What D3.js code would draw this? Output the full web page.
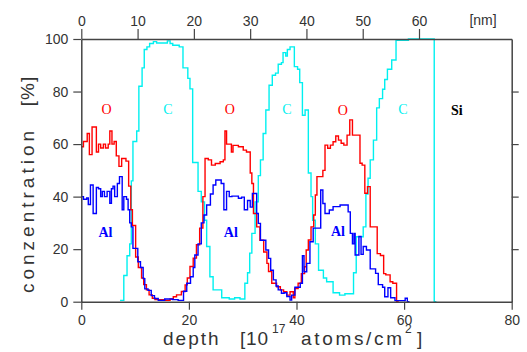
<!DOCTYPE html>
<html>
<head>
<meta charset="utf-8">
<script src="https://cdn.jsdelivr.net/npm/d3@7"></script>
<style>
  body { margin: 0; background: #fff; }
  text { white-space: pre; }
</style>
</head>
<body>
<div id="chart"></div>
<script>
// depth [1e17 atoms/cm2] -> concentration [%], step profiles
var oxygen = [
  [0, 59], [0.4, 61], [1.1, 64], [1.5, 56], [2.0, 66.5], [2.8, 57], [3.2, 60], [3.6, 58.5],
  [4.1, 60], [4.5, 58.5], [5.0, 60], [5.3, 65], [5.7, 60], [6.1, 61], [6.5, 55.5], [7.0, 51.5],
  [7.5, 54.5], [8.3, 53.5], [8.8, 44], [9.2, 35], [9.5, 29], [10.1, 17], [10.6, 13], [11.2, 9],
  [11.6, 6.5], [12.1, 4.5], [12.6, 2.6], [13.2, 1.3], [13.7, 0.8], [15.5, 0.5], [16.5, 1],
  [17.1, 1.9], [17.7, 2.6], [18.6, 3.9], [19.3, 6.4], [19.7, 9], [20.2, 13.4], [20.8, 16.6],
  [21.4, 21.7], [22.0, 28], [22.6, 40], [23.0, 54.5], [23.6, 54], [24.2, 52], [24.9, 52.6],
  [25.8, 53.3], [26.4, 54], [26.7, 65], [27.0, 60], [27.9, 57], [28.2, 59.5], [29.2, 59],
  [30.1, 57.7], [30.7, 57], [31.4, 49], [31.7, 45], [32.0, 33.6], [32.6, 28.5], [33.2, 23.4],
  [33.9, 18.9], [34.5, 14.6], [34.8, 11.5], [35.4, 7], [36.3, 5.7], [37.0, 4.5], [37.6, 3.8],
  [38.2, 2.5], [38.8, 3.8], [39.4, 1.5], [39.7, 5], [40.3, 7], [40.9, 10.7], [41.5, 13.3],
  [41.8, 19.7], [42.2, 23.5], [42.7, 28.5], [43.2, 33], [43.5, 40.6], [43.8, 47.6], [44.9, 50],
  [45.3, 59.6], [45.8, 58.4], [46.3, 59.6], [46.8, 60.9], [47.3, 63.1], [47.8, 61.5],
  [48.3, 60.3], [48.8, 59.6], [49.4, 63.4], [49.9, 69.2], [50.4, 63.4], [51.8, 52.7], [52.2, 52],
  [52.7, 41.3], [53.2, 43.8], [53.7, 28.5], [55.0, 18.3], [55.6, 17.6], [56.2, 10.7],
  [56.6, 10.2], [57.4, 7.6], [57.9, 7.0], [58.6, 0], [59, 0]
]

var carbon = [
  [7.2, 0.5], [7.9, 10], [8.5, 17.5], [9.0, 22], [9.3, 46], [9.6, 61], [10.3, 65], [10.7, 82],
  [11.3, 89], [11.7, 96], [12.2, 97], [12.7, 98.3], [13.4, 99], [14.0, 98.5], [16.0, 99.3],
  [16.5, 98.3], [17.0, 97.6], [18.2, 97], [18.9, 89], [19.8, 85], [20.2, 81], [20.7, 53],
  [21.7, 42], [22.3, 38], [22.9, 31], [23.3, 21], [23.9, 9.5], [24.5, 4.5], [26.1, 1.5],
  [27.5, 1], [28.5, 1.5], [29.5, 1], [30.4, 7], [30.9, 11], [31.3, 18.5], [31.7, 26], [32.3, 38],
  [32.9, 48], [33.3, 54], [33.8, 64], [34.3, 73], [34.9, 82.4], [35.5, 86.2], [36.1, 87],
  [36.6, 90.4], [37.2, 91], [37.5, 94.8], [38.0, 93.5], [38.3, 96], [38.8, 97], [39.6, 89.5],
  [40.2, 88.5], [40.6, 83.4], [41.1, 71], [41.6, 73], [42.2, 49], [42.7, 40], [43.0, 31],
  [43.5, 22], [44.1, 12], [45.0, 9], [45.6, 7.6], [46.8, 3.4], [48.0, 2.5], [49.0, 3],
  [50.6, 11], [51.1, 24.7], [52.4, 28.5], [52.9, 41], [53.3, 47], [53.7, 54], [54.3, 61.5],
  [54.9, 73.8], [55.4, 77.3], [56.0, 80.9], [56.4, 84.6], [56.9, 88.5], [57.7, 92],
  [58.5, 99.5], [60.8, 100], [65.6, 0], [66, 0]
]

var aluminium = [
  [0, 40], [0.4, 39], [1.0, 39.5], [1.3, 37], [1.7, 44.4], [2.2, 33.6], [2.8, 43.5], [3.2, 43],
  [3.6, 40], [3.9, 42], [4.3, 40], [4.8, 42], [5.3, 37.5], [5.6, 43], [5.9, 44], [6.2, 40],
  [6.7, 45], [7.1, 47.6], [7.6, 35], [7.9, 40], [8.4, 39], [8.7, 35], [9.0, 30], [9.3, 28.5],
  [9.6, 20.3], [10.5, 15.2], [11.0, 13], [11.5, 8.8], [11.8, 4.9], [12.4, 4.3], [13.0, 2.3],
  [13.6, 1.2], [14.3, 0.5], [15.5, 1], [17.0, 0.8], [18.0, 0.5], [19.0, 4], [19.6, 7],
  [20.3, 9.5], [20.8, 13], [21.1, 17.8], [21.7, 22], [22.3, 30], [22.8, 33], [23.3, 36.8],
  [24.0, 41], [24.5, 44.4], [25.0, 46.3], [26.0, 45], [26.5, 35], [27.0, 42], [27.5, 40],
  [28.0, 40.2], [29.2, 39.4], [29.8, 39.8], [30.3, 35], [30.9, 38.5], [31.4, 36], [31.8, 41.2],
  [32.6, 33.6], [32.9, 29.8], [33.3, 23.4], [34.3, 19.7], [34.8, 16.5], [35.2, 12], [35.7, 8.3],
  [36.2, 6], [36.6, 4.5], [37.2, 3.2], [37.7, 3.4], [38.2, 2], [38.8, 0.6], [39.1, 2.5],
  [39.7, 5.5], [40.7, 7], [41.1, 17.5], [41.4, 11.4], [41.9, 14.6], [42.5, 22.8], [43.1, 28],
  [44.5, 42.5], [44.9, 37.4], [45.3, 33.6], [46.1, 34.9], [46.8, 36.2], [48.1, 36.8],
  [49.6, 34.2], [50.0, 26], [50.4, 22], [50.7, 26], [50.9, 17.8], [51.6, 24.8], [52.0, 18],
  [52.4, 21], [53.0, 19.7], [53.7, 12.5], [54.7, 10.8], [55.2, 6.5], [56.0, 5.5], [56.4, 1.9],
  [57.0, 5.3], [57.5, 1.5], [58.3, 0.4], [60.2, 1.3], [60.6, 0], [61, 0]
]

var depthTicks = [0, 20, 40, 60, 80]
var nmTicks = [0, 10, 20, 30, 40, 50, 60]
var concTicks = [0, 20, 40, 60, 80, 100]

// element labels, placed in data coordinates
var labels = [
  {text: "O", el: "O", d: 4.7, v: 73.4},
  {text: "C", el: "C", d: 16.1, v: 73.4},
  {text: "O", el: "O", d: 27.6, v: 73.4},
  {text: "C", el: "C", d: 38.2, v: 73.4},
  {text: "O", el: "O", d: 48.6, v: 73.0},
  {text: "C", el: "C", d: 59.8, v: 73.4},
  {text: "Si", el: "Si", d: 69.8, v: 73.0},
  {text: "Al", el: "Al", d: 4.5, v: 26.5},
  {text: "Al", el: "Al", d: 27.8, v: 26.5},
  {text: "Al", el: "Al", d: 47.7, v: 26.7}
]

var color = {O: "#ff0000", C: "#00f0f0", Al: "#0000ff", Si: "#000000"}

var width = 527, height = 352
var svg = d3.select("#chart").append("svg")
  .attr("width", width)
  .attr("height", height)

var x = d3.scaleLinear().domain([0, 80]).range([81.3, 511.7])
var y = d3.scaleLinear().domain([0, 100]).range([301.7, 39])
// top axis in nm, 60 nm sits at x=419
var xnm = d3.scaleLinear().domain([0, 430.4 / ((419 - 81.3) / 60)]).range([81.3, 511.7])

var line = d3.line()
  .curve(d3.curveStepAfter)
  .x(d => x(d[0]))
  .y(d => y(d[1]))

var series = [["C", carbon], ["O", oxygen], ["Al", aluminium]]
svg.append("g").selectAll("path")
  .data(series)
  .enter()
  .append("path")
    .attr("d", d => line(d[1]))
    .attr("fill", "none")
    .attr("stroke", d => color[d[0]])
    .attr("stroke-width", 1.4)

var tickFont = function(g) {
  g.selectAll("text")
    .style("font-family", "'Liberation Sans', Arial, sans-serif")
    .style("font-size", "14px")
    .attr("fill", "#333")
  g.selectAll("line").attr("stroke", "#444").attr("stroke-width", 1.2)
  g.select(".domain").attr("stroke", "#444").attr("stroke-width", 1.5)
}

svg.append("g")
  .attr("transform", "translate(0," + y(0) + ")")
  .call(d3.axisBottom(x).tickValues(depthTicks).tickSize(8).tickSizeOuter(0).tickPadding(5))
  .call(tickFont)

svg.append("g")
  .attr("transform", "translate(0," + y(100) + ")")
  .call(d3.axisTop(xnm).tickValues(nmTicks).tickSize(10).tickSizeOuter(0).tickPadding(3))
  .call(tickFont)

svg.append("g")
  .attr("transform", "translate(" + x(0) + ",0)")
  .call(d3.axisLeft(y).tickValues(concTicks).tickSize(8).tickSizeOuter(0).tickPadding(5))
  .call(tickFont)

svg.append("g")
  .attr("transform", "translate(" + x(80) + ",0)")
  .call(d3.axisRight(y).tickValues([20, 40, 60, 80]).tickSize(7).tickSizeOuter(0).tickFormat(""))
  .call(tickFont)

svg.append("text")
  .attr("x", 483).attr("y", 25)
  .attr("text-anchor", "middle")
  .style("font-family", "'Liberation Sans', Arial, sans-serif")
  .style("font-size", "14px")
  .attr("fill", "#333")
  .text("[nm]")

svg.append("g").selectAll("text")
  .data(labels)
  .enter()
  .append("text")
    .attr("x", d => x(d.d))
    .attr("y", d => y(d.v))
    .attr("dy", "0.35em")
    .attr("text-anchor", "middle")
    .attr("fill", d => color[d.el])
    .style("font-family", "'Liberation Serif', 'Times New Roman', serif")
    .style("font-weight", d => (d.el == "Al" || d.el == "Si") ? "bold" : "normal")
    .style("font-size", "14px")
    .text(d => d.text)

// axis titles
var titleFont = function(t) {
  t.style("font-family", "'Liberation Sans', Arial, sans-serif")
    .style("font-size", "19px")
    .attr("fill", "#333")
}

svg.append("text")
  .attr("transform", "translate(34,210) rotate(-90)")
  .attr("text-anchor", "middle")
  .style("letter-spacing", "4px")
  .call(titleFont)
  .text("conzentration")

svg.append("text")
  .attr("transform", "translate(34,91) rotate(-90)")
  .attr("text-anchor", "middle")
  .style("letter-spacing", "1px")
  .call(titleFont)
  .text("[%]")

svg.append("text").attr("x", 163).attr("y", 345)
  .style("letter-spacing", "2px").call(titleFont).text("depth")
svg.append("text").attr("x", 240).attr("y", 345)
  .attr("textLength", 28).attr("lengthAdjust", "spacing")
  .call(titleFont).text("[10")
svg.append("text").attr("x", 272).attr("y", 333)
  .call(titleFont).style("font-size", "12px").text("17")
svg.append("text").attr("x", 301).attr("y", 345)
  .attr("textLength", 101).attr("lengthAdjust", "spacing")
  .call(titleFont).text("atoms/cm")
svg.append("text").attr("x", 405).attr("y", 333)
  .call(titleFont).style("font-size", "12px").text("2")
svg.append("text").attr("x", 417).attr("y", 345)
  .call(titleFont).text("]")
</script>
</body>
</html>
